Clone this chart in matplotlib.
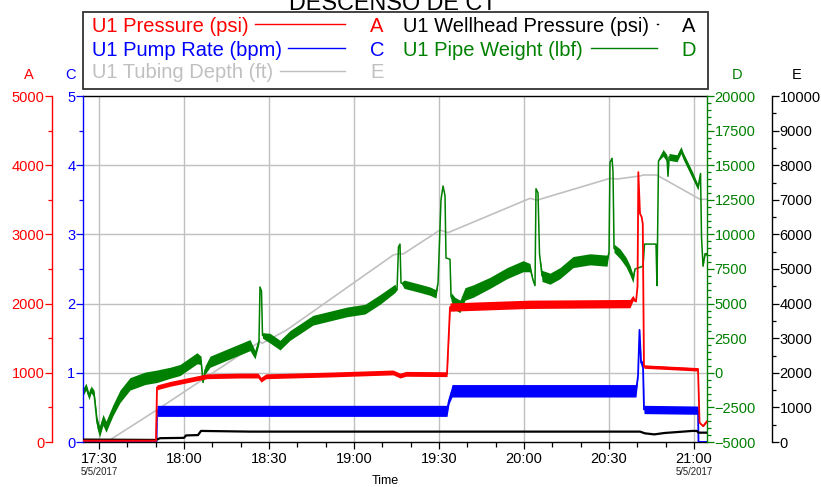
import numpy as np
import pandas as pd
import matplotlib
matplotlib.use('Agg')
import matplotlib.pyplot as plt
import matplotlib.dates as mdates
import matplotlib.transforms as mtransforms
from matplotlib.ticker import MultipleLocator
from matplotlib.lines import Line2D
from matplotlib.patches import Rectangle

plt.rcParams['font.family'] = ['Liberation Sans', 'DejaVu Sans']

DAY = '2017-05-05 '
title = 'DESCENSO DE CT'

# ---------------- data ----------------
# U1 Pressure (psi) -> axis A
press_t = ['17:24:21', '17:50:07', '17:50:28', '17:55:04', '18:08:01', '18:19:46',
           '18:26:07', '18:27:11', '18:28:56', '18:51:32', '19:13:46', '19:16:14',
           '19:18:21', '19:32:49', '19:33:53', '20:02:07', '20:37:25', '20:38:28',
           '20:39:32', '20:40:04', '20:40:21', '20:40:56', '20:41:32', '20:41:55',
           '20:42:20', '21:01:25', '21:01:57', '21:03:11', '21:04:35']
press_v = [20, 20, 790, 840, 950, 960,
           960, 900, 950, 975, 1005, 960,
           985, 980, 1950, 1990, 2000, 2080,
           2030, 2250, 3900, 3300, 3250, 3150,
           1090, 1050, 280, 230, 300]
press_s = [5, 5, 35, 35, 35, 35,
           35, 35, 35, 35, 35, 35,
           35, 35, 60, 60, 60, 40,
           0, 0, 0, 0, 0, 0,
           25, 25, 10, 10, 10]

# U1 Wellhead Pressure (psi) -> axis A
whp_t = ['17:24:21', '17:50:07', '17:51:32', '18:00:00', '18:00:42', '18:04:56',
         '18:06:00', '18:23:18', '19:16:14', '20:40:56', '20:42:42', '20:46:00',
         '20:49:32', '20:59:25', '21:01:00', '21:01:35', '21:04:35']
whp_v = [35, 30, 55, 60, 95, 100,
         160, 150, 150, 150, 125, 110,
         130, 160, 160, 135, 135]

# U1 Pump Rate (bpm) -> axis C
rate_t = ['17:24:21', '17:50:18', '17:50:28', '19:32:49', '19:33:32', '19:34:35',
          '20:39:32', '20:40:14', '20:40:46', '20:41:18', '20:42:00', '20:42:21',
          '21:01:25', '21:01:35', '21:04:35']
rate_v = [0, 0, 0.45, 0.45, 0.60, 0.74,
          0.74, 0.95, 1.62, 1.15, 1.10, 0.47,
          0.46, 0, 0]
rate_s = [0, 0, 0.08, 0.08, 0.05, 0.09,
          0.09, 0, 0, 0.05, 0.05, 0.06,
          0.06, 0, 0]

# U1 Pipe Weight (lbf) -> axis D
weight_t = ['17:24:21', '17:25:25', '17:26:28', '17:27:11', '17:28:14', '17:29:18', '17:30:11', '17:31:25', '17:32:28', '17:33:53',
            '17:34:56', '17:37:25', '17:40:56', '17:46:14', '17:50:28', '17:55:04', '17:58:35', '18:04:35', '18:06:00', '18:06:42',
            '18:07:25', '18:09:11', '18:16:14', '18:23:18', '18:25:04', '18:26:28', '18:26:49', '18:27:21', '18:27:42', '18:30:21',
            '18:33:53', '18:37:25', '18:45:32', '18:57:32', '19:03:53', '19:09:11', '19:14:28', '19:15:11', '19:15:42', '19:16:14',
            '19:16:35', '19:17:39', '19:23:18', '19:26:49', '19:28:56', '19:29:39', '19:30:42', '19:31:25', '19:32:07', '19:32:28',
            '19:33:53', '19:34:14', '19:35:39', '19:37:25', '19:39:11', '19:42:00', '19:48:00', '19:54:00', '19:59:39', '20:02:07',
            '20:03:11', '20:03:53', '20:04:14', '20:04:56', '20:05:28', '20:06:21', '20:09:11', '20:12:42', '20:17:18', '20:23:18',
            '20:29:18', '20:30:00', '20:30:21', '20:31:04', '20:31:25', '20:31:46', '20:33:53', '20:36:00', '20:37:25', '20:38:28',
            '20:39:11', '20:42:00', '20:42:32', '20:46:35', '20:46:56', '20:47:28', '20:49:04', '20:50:28', '20:50:49', '20:51:11',
            '20:54:00', '20:55:25', '20:56:07', '20:57:32', '20:59:25', '21:01:25', '21:02:18', '21:02:39', '21:03:11', '21:03:53',
            '21:04:35']
weight_v = [-1400, -1000, -1700, -1200, -1500, -3600, -4250, -3400, -3900, -3200,
            -2700, -1700, -800, -400, -250, 0, 200, 1050, 900, -700,
            200, 800, 1400, 2000, 1300, 2300, 6200, 5900, 2700, 2500,
            2000, 2700, 3800, 4400, 4600, 5300, 6100, 6000, 9100, 9300,
            6500, 6400, 6100, 5900, 5700, 6500, 12500, 13500, 12800, 8300,
            8200, 5500, 5000, 4800, 5700, 5900, 6500, 7200, 7700, 7600,
            6700, 6300, 13300, 13000, 8600, 7000, 6800, 7200, 8000, 8200,
            8100, 8700, 15200, 15500, 14500, 9000, 8600, 8000, 7400, 6800,
            7500, 7700, 9300, 9300, 6300, 15300, 15900, 15500, 14200, 15600,
            15500, 16100, 15700, 15100, 14300, 13400, 14400, 9800, 7700, 8600,
            8600]
weight_s = [250, 250, 250, 250, 250, 400, 400, 400, 400, 400,
            400, 450, 450, 450, 450, 400, 400, 400, 300, 0,
            300, 400, 400, 400, 300, 200, 0, 0, 200, 350,
            350, 350, 350, 350, 350, 350, 300, 0, 0, 0,
            0, 300, 300, 300, 300, 0, 0, 0, 0, 0,
            0, 300, 450, 450, 450, 450, 400, 400, 400, 300,
            0, 0, 0, 0, 0, 400, 400, 400, 400, 400,
            400, 0, 0, 0, 0, 300, 350, 350, 350, 300,
            0, 0, 0, 0, 0, 0, 250, 250, 0, 250,
            250, 250, 250, 250, 250, 200, 0, 0, 0, 100,
            100]

# U1 Tubing Depth (ft) -> axis E
depth_t = ['17:24:21', '17:32:43', '17:50:22', '18:26:49', '18:27:32', '18:36:15',
           '19:13:52', '19:16:14', '19:17:18', '19:30:21', '19:33:11', '20:02:07',
           '20:04:35', '20:30:21', '20:32:49', '20:40:56', '20:42:07', '20:46:50',
           '21:02:07', '21:04:35']
depth_v = [0, 0, 925, 2900, 2850, 3237,
           5405, 5450, 5430, 6127, 6050, 7042,
           6990, 7620, 7600, 7688, 7717, 7717,
           7014, 7014]

x_start, x_end = '17:24:21', '21:04:35'
date_label = '5/5/2017'
date_label_ticks = ['17:30', '21:00']

assert len(press_t) == len(press_v) == len(press_s)
assert len(whp_t) == len(whp_v)
assert len(rate_t) == len(rate_v) == len(rate_s)
assert len(weight_t) == len(weight_v) == len(weight_s)
assert len(depth_t) == len(depth_v)


def ts(lst):
    return pd.to_datetime([DAY + s for s in lst]).to_numpy()


RED, BLUE, GREEN, BLACK, GREY = '#ff0000', '#0000ff', '#008000', '#000000', '#c0c0c0'
FS_TICK = 10.5
FS_LEG = 14.5

W, H = 821, 487
fig = plt.figure(figsize=(W / 100, H / 100), dpi=100)
L, R, B, T = 83, 707, 442, 96
PX = 0.72  # points per pixel

host = fig.add_axes([L / W, 1 - B / H, (R - L) / W, (B - T) / H])  # axis E (tubing depth)
ax_d = host.twinx()
ax_c = host.twinx()
ax_a = host.twinx()

x0 = pd.Timestamp(DAY + x_start)
x1 = pd.Timestamp(DAY + x_end)
host.set_xlim(x0, x1)

# ---- host (E) ----
host.set_ylim(0, 10000)
host.yaxis.tick_right()
host.yaxis.set_major_locator(MultipleLocator(1000))
host.yaxis.set_minor_locator(MultipleLocator(500))
host.spines['right'].set_position(('outward', 65 * PX))
host.spines['left'].set_visible(False)
for s in ['right', 'top', 'bottom']:
    host.spines[s].set_color(BLACK)
    host.spines[s].set_linewidth(1.0)
host.tick_params(axis='y', which='major', direction='out', length=5, width=0.9,
                 labelsize=FS_TICK, pad=0.5, colors=BLACK)
host.tick_params(axis='y', which='minor', direction='out', length=3, width=0.9, colors=BLACK)
host.xaxis.set_major_locator(mdates.MinuteLocator(byminute=[0, 30]))
host.xaxis.set_minor_locator(mdates.MinuteLocator(byminute=[0, 10, 20, 30, 40, 50]))
host.xaxis.set_major_formatter(mdates.DateFormatter('%H:%M'))
host.tick_params(axis='x', which='major', direction='out', length=5, width=0.9,
                 labelsize=FS_TICK, pad=2)
host.tick_params(axis='x', which='minor', direction='out', length=3.5, width=0.9)
host.grid(axis='x', which='major', color=GREY, linewidth=1.0)
for a_val in [1000, 2000, 3000, 4000]:
    host.axhline(a_val * 2, color=GREY, linewidth=1.0, zorder=0.5)

# ---- D (pipe weight), right spine at plot edge ----
ax_d.set_ylim(-5000, 20000)
ax_d.yaxis.set_major_locator(MultipleLocator(2500))
ax_d.yaxis.set_minor_locator(MultipleLocator(500))
for s in ['left', 'top', 'bottom']:
    ax_d.spines[s].set_visible(False)
ax_d.spines['right'].set_color(GREEN)
ax_d.spines['right'].set_linewidth(1.0)
ax_d.tick_params(axis='y', which='major', direction='out', length=5, width=0.9,
                 labelsize=FS_TICK, pad=0.5, colors=GREEN)
ax_d.tick_params(axis='y', which='minor', direction='out', length=3, width=0.9, colors=GREEN)

# ---- C (pump rate), left spine at plot edge ----
ax_c.set_ylim(0, 5)
ax_c.yaxis.tick_left()
ax_c.yaxis.set_major_locator(MultipleLocator(1))
ax_c.yaxis.set_minor_locator(MultipleLocator(0.5))
for s in ['right', 'top', 'bottom']:
    ax_c.spines[s].set_visible(False)
ax_c.spines['left'].set_visible(True)
ax_c.spines['left'].set_color(BLUE)
ax_c.spines['left'].set_linewidth(1.0)
ax_c.tick_params(axis='y', which='major', direction='out', length=5, width=0.9,
                 labelsize=FS_TICK, pad=0.5, colors=BLUE)
ax_c.tick_params(axis='y', which='minor', direction='out', length=3, width=0.9, colors=BLUE)

# ---- A (pressures), left spine offset ----
ax_a.set_ylim(0, 5000)
ax_a.yaxis.tick_left()
ax_a.yaxis.set_major_locator(MultipleLocator(1000))
ax_a.yaxis.set_minor_locator(MultipleLocator(500))
for s in ['right', 'top', 'bottom']:
    ax_a.spines[s].set_visible(False)
ax_a.spines['left'].set_visible(True)
ax_a.spines['left'].set_position(('outward', 31 * PX))
ax_a.spines['left'].set_color(RED)
ax_a.spines['left'].set_linewidth(1.0)
ax_a.tick_params(axis='y', which='major', direction='out', length=5, width=0.9,
                 labelsize=FS_TICK, pad=0.5, colors=RED)
ax_a.tick_params(axis='y', which='minor', direction='out', length=3, width=0.9, colors=RED)

# ---- series ----
t = ts(depth_t)
host.plot(t, depth_v, color=GREY, linewidth=1.2, zorder=2)

t = ts(weight_t)
wv, wsp = np.array(weight_v, float), np.array(weight_s, float)
ax_d.fill_between(t, wv - wsp, wv + wsp, color=GREEN, linewidth=0, zorder=2)
ax_d.plot(t, wv, color=GREEN, linewidth=1.1, zorder=3)

t = ts(rate_t)
rv, rsp = np.array(rate_v, float), np.array(rate_s, float)
ax_c.fill_between(t, rv - rsp, rv + rsp, color=BLUE, linewidth=0, zorder=2)
ax_c.plot(t, rv, color=BLUE, linewidth=1.3, zorder=3)

t = ts(whp_t)
ax_a.plot(t, whp_v, color=BLACK, linewidth=1.6, zorder=2)

t = ts(press_t)
pv, psp = np.array(press_v, float), np.array(press_s, float)
ax_a.fill_between(t, pv - psp, pv + psp, color=RED, linewidth=0, zorder=3)
ax_a.plot(t, pv, color=RED, linewidth=1.3, zorder=4)

host.set_xlim(x0, x1)

# ---- annotations in figure pixel coordinates ----
def fx(x):
    return x / W


def fy(y):
    return 1 - y / H


fig.text(fx(393), fy(10), title, ha='center', va='baseline', fontsize=16.8, color=BLACK)

# axis letters
fig.text(fx(29), fy(75), 'A', ha='center', va='center', fontsize=FS_TICK, color=RED)
fig.text(fx(70), fy(75), 'C', ha='center', va='center', fontsize=FS_TICK, color=BLUE)
fig.text(fx(737), fy(75), 'D', ha='center', va='center', fontsize=FS_TICK, color=GREEN)
fig.text(fx(797), fy(75), 'E', ha='center', va='center', fontsize=FS_TICK, color=BLACK)

# x-axis extras
blend = mtransforms.blended_transform_factory(host.transData, fig.transFigure)
for lab in date_label_ticks:
    xv = mdates.date2num(pd.Timestamp(DAY + lab))
    fig.text(xv, fy(472), date_label, ha='center', va='center', fontsize=6.9,
             color='#222222', transform=blend)
fig.text(fx(385), fy(481), 'Time', ha='center', va='center', fontsize=9, color=BLACK)

# legend box
fig.patches.append(Rectangle((fx(83), fy(89)), fx(708) - fx(83), fy(12) - fy(89),
                             transform=fig.transFigure, facecolor='white',
                             edgecolor='#333333', linewidth=1.3))
leg_rows = [
    (92, 32, 'U1 Pressure (psi)', RED, 255, 345, 'A', 377),
    (92, 55.5, 'U1 Pump Rate (bpm)', BLUE, 288, 345, 'C', 377),
    (92, 78.5, 'U1 Tubing Depth (ft)', GREY, 280, 345, 'E', 377),
    (403, 32, 'U1 Wellhead Pressure (psi)', BLACK, 656.5, 657.5, 'A', 689),
    (403, 55.5, 'U1 Pipe Weight (lbf)', GREEN, 591, 657, 'D', 689),
]
for xt, yb, lab, col, l0, l1, letter, xl in leg_rows:
    fig.text(fx(xt), fy(yb), lab, ha='left', va='baseline', fontsize=FS_LEG, color=col)
    fig.lines.append(Line2D([fx(l0), fx(l1)], [fy(yb - 8), fy(yb - 8)],
                            transform=fig.transFigure, color=col, linewidth=1.0))
    fig.text(fx(xl), fy(yb), letter, ha='center', va='baseline', fontsize=FS_LEG, color=col)

fig.savefig('out.png', dpi=100)
